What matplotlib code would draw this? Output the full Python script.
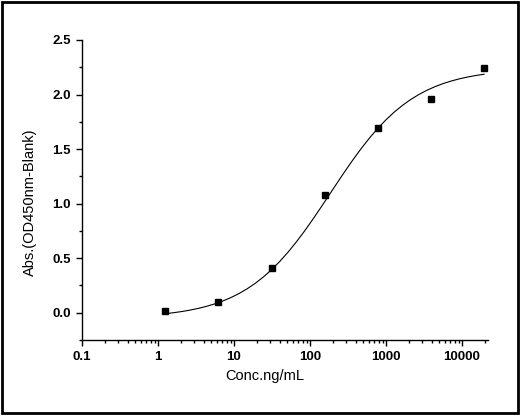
import numpy as np
import matplotlib
matplotlib.use('Agg')
import matplotlib.pyplot as plt
from matplotlib.patches import Rectangle
from matplotlib.ticker import LogLocator, MultipleLocator, FixedLocator, FixedFormatter

plt.rcParams['font.family'] = ['Liberation Sans', 'DejaVu Sans']

# standards (ng/mL) and blank-corrected absorbance
conc = [1.25, 6.25, 31.25, 156.25, 781.25, 3906.25, 19531.25]
absorb = [0.02, 0.10, 0.41, 1.08, 1.69, 1.96, 2.24]

# four-parameter logistic fit
fit_bottom = -0.05
fit_top = 2.24
fit_ec50 = 185.0
fit_slope = 0.8

x_ticks = [0.1, 1, 10, 100, 1000, 10000]
x_labels = ['0.1', '1', '10', '100', '1000', '10000']
y_ticks = [0.0, 0.5, 1.0, 1.5, 2.0, 2.5]


def four_pl(x):
    return fit_top + (fit_bottom - fit_top) / (1 + (x / fit_ec50) ** fit_slope)


fig = plt.figure(figsize=(5.2, 4.16), dpi=100)
ax = fig.add_axes([82 / 520, 76 / 416, 406 / 520, 300 / 416])

xc = np.logspace(np.log10(conc[0]), np.log10(conc[-1]), 40)
ax.plot(xc, four_pl(xc), color='black', lw=0.8)
ax.plot(conc, absorb, 's', color='black', ms=4.3)

ax.set_xscale('log')
ax.set_xlim(0.1, 22000)
ax.set_ylim(-0.25, 2.5)

ax.xaxis.set_major_locator(FixedLocator(x_ticks))
ax.xaxis.set_major_formatter(FixedFormatter(x_labels))
ax.xaxis.set_minor_locator(LogLocator(base=10, subs=np.arange(2, 10)))
ax.yaxis.set_major_locator(FixedLocator(y_ticks))
ax.yaxis.set_minor_locator(MultipleLocator(0.25))
ax.yaxis.set_major_formatter(plt.FormatStrFormatter('%.1f'))

for s in ['top', 'right']:
    ax.spines[s].set_visible(False)
for s in ['left', 'bottom']:
    ax.spines[s].set_linewidth(1.0)

ax.tick_params(which='major', direction='out', length=4, width=1, labelsize=9.5, pad=4)
ax.tick_params(which='minor', direction='out', length=2.5, width=1)
for lab in ax.get_xticklabels() + ax.get_yticklabels():
    lab.set_fontweight('bold')

ax.set_xlabel('Conc.ng/mL', fontsize=10.5)
ax.set_ylabel('Abs.(OD450nm-Blank)', fontsize=10.5)
ax.xaxis.set_label_coords((265 - 82) / 406, -(369 - 340) / 300)
ax.yaxis.set_label_coords(-(82 - 37) / 406, (340 - 202) / 300)

fig.patches.append(Rectangle((2 / 520, 3 / 416), 516 / 520, 411 / 416,
                             transform=fig.transFigure, fill=False,
                             edgecolor='black', lw=2))

fig.savefig('out.png', dpi=100)
